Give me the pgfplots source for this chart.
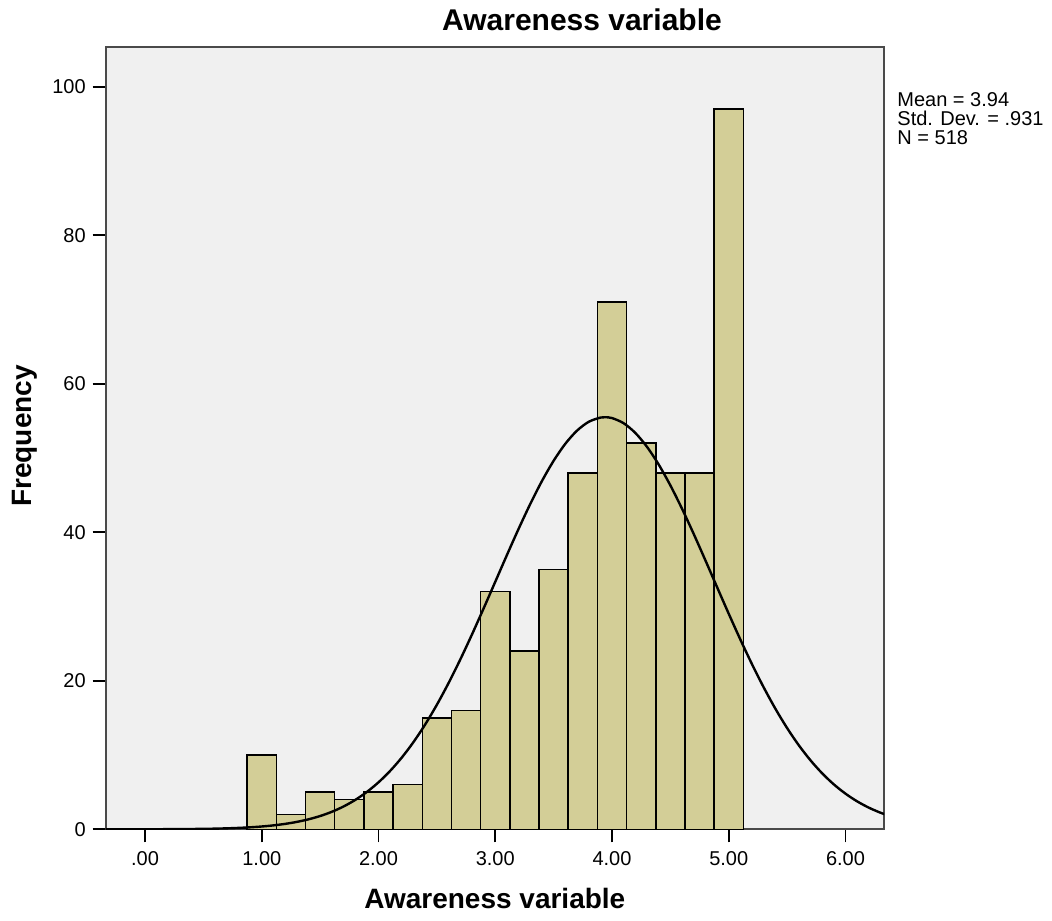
\documentclass[border=0pt]{standalone}
\usepackage{fontspec}
\setmainfont{Liberation Sans}
\usepackage{pgfplots}
\pgfplotsset{compat=1.18}

\definecolor{plotbg}{HTML}{F0F0F0}
\definecolor{barfill}{HTML}{D3CE97}
\definecolor{frame}{HTML}{4A4A4A}

\begin{document}
\begin{tikzpicture}
\path[use as bounding box] (0,0) rectangle (526pt,460pt);
\begin{axis}[
  at={(52.85pt,45.35pt)}, anchor=south west,
  scale only axis, width=389.15pt, height=391pt,
  xmin=-0.337, xmax=6.33, ymin=0, ymax=105.3,
  axis background/.style={fill=plotbg},
  axis line style={frame, line width=0.9pt},
  tick align=outside, major tick length=6.5pt,
  tick style={black, line width=0.9pt},
  xtick={0,1,2,3,4,5,6},
  xticklabels={.00,1.00,2.00,3.00,4.00,5.00,6.00},
  ytick={0,20,40,60,80,100},
  xtick pos=bottom, ytick pos=left,
  /pgf/number format/assume math mode=true,
  ticklabel style={font=\fontsize{10}{12}\selectfont},
  xticklabel style={yshift=-1pt},
  title={\fontsize{15}{18}\selectfont\bfseries Awareness variable},
  every axis title/.style={at={(rel axis cs:0.612,1)}, anchor=base, yshift=8.15pt, inner sep=0pt},
  xlabel={\fontsize{14}{17}\selectfont\bfseries Awareness variable},
  xlabel style={at={(rel axis cs:0.5,0)}, anchor=base, yshift=-39.35pt, inner sep=0pt},
  ylabel={\fontsize{14}{17}\selectfont\bfseries Frequency},
  ylabel style={at={(rel axis cs:-0.1037,0.503)}, anchor=center, inner sep=0pt},
  clip=true,
]
% histogram: bin edges and counts
\addplot[ybar interval, fill=barfill, draw=black, line width=0.75pt] coordinates {
  (0.875,10) (1.125,2) (1.375,5) (1.625,4) (1.875,5) (2.125,6)
  (2.375,15) (2.625,16) (2.875,32) (3.125,24) (3.375,35) (3.625,48)
  (3.875,71) (4.125,52) (4.375,48) (4.625,48) (4.875,97) (5.125,97)
};
% fitted normal curve (mean 3.94, sd .931, N 518, bin width .25)
\addplot[black, line width=1.2pt, smooth] coordinates {
  (-0.4,0.001) (0,0.007) (0.25,0.022) (0.5,0.060) (0.6,0.089) (0.7,0.130)
  (0.8,0.188) (0.9,0.268) (1.0,0.379) (1.1,0.529) (1.2,0.730) (1.3,0.996)
  (1.4,1.343) (1.5,1.789) (1.6,2.357) (1.7,3.070) (1.8,3.952) (1.9,5.029)
  (2.0,6.329) (2.1,7.872) (2.2,9.676) (2.3,11.760) (2.4,14.127) (2.5,16.777)
  (2.6,19.695) (2.7,22.856) (2.8,26.219) (2.9,29.735) (3.0,33.331)
  (3.1,36.936) (3.2,40.459) (3.3,43.813) (3.4,46.899) (3.5,49.626)
  (3.6,51.910) (3.7,53.676) (3.8,54.866) (3.9,55.439) (3.94,55.49)
  (4.0,55.375) (4.1,54.677) (4.2,53.368) (4.3,51.493) (4.4,49.114)
  (4.5,46.308) (4.6,43.160) (4.7,39.764) (4.8,36.218) (4.9,32.609)
  (5.0,29.022) (5.1,25.533) (5.2,22.207) (5.3,19.092) (5.4,16.225)
  (5.5,13.631) (5.6,11.319) (5.7,9.294) (5.8,7.543) (5.9,6.050)
  (6.0,4.798) (6.1,3.761) (6.2,2.915) (6.3,2.233) (6.4,1.691)
};
\end{axis}
% summary statistics beside the plot
\begin{scope}[font=\fontsize{10}{12}\selectfont]
\node[anchor=base west, inner sep=0pt] at (448.5pt,406.8pt) {Mean = 3.94};
\node[anchor=base west, inner sep=0pt] at (448.5pt,397.3pt) {Std. Dev. = .931};
\node[anchor=base west, inner sep=0pt] at (448.5pt,387.8pt) {N = 518};
\end{scope}
\end{tikzpicture}
\end{document}
